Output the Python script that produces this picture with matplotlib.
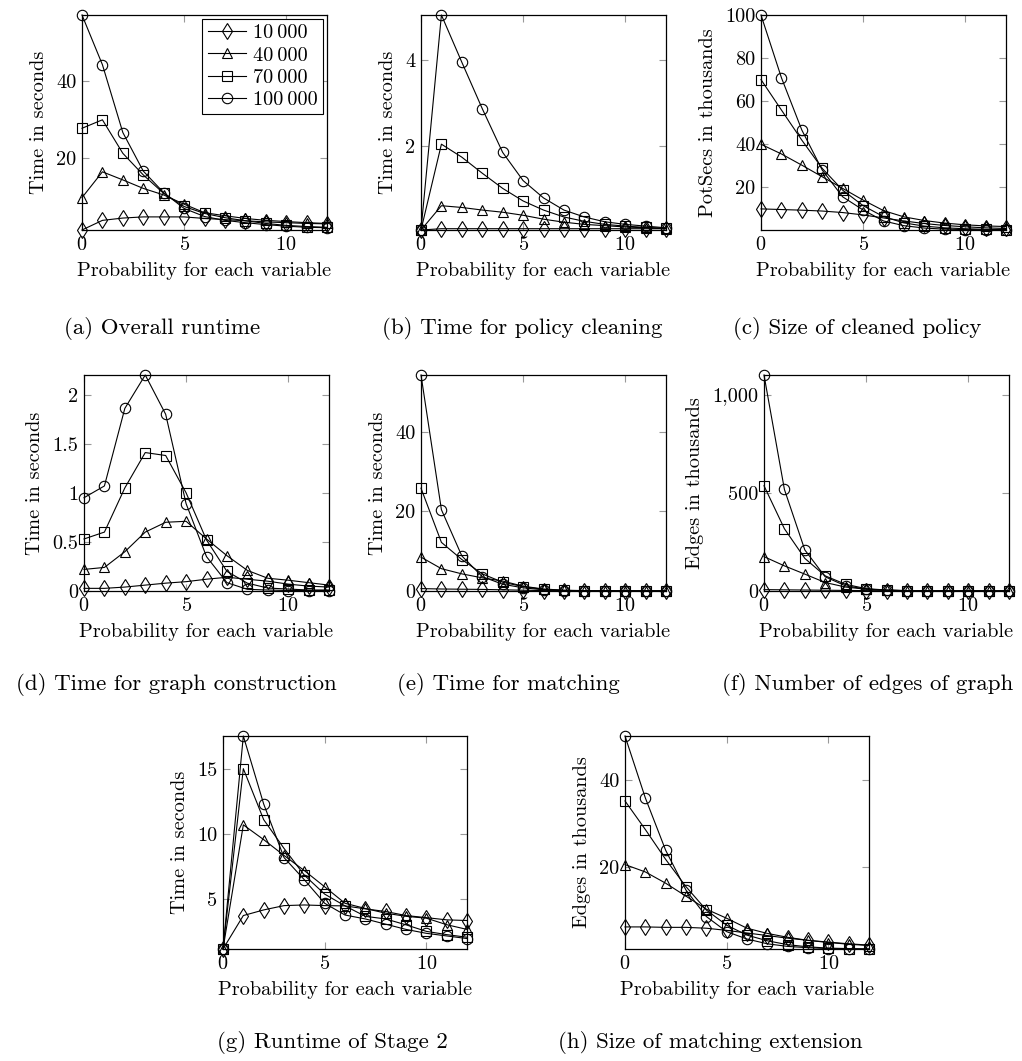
import matplotlib
matplotlib.use("Agg")
import matplotlib.pyplot as plt
from matplotlib.ticker import FuncFormatter, FixedLocator

plt.rcParams['font.family'] = ['cmr10', 'DejaVu Serif']
plt.rcParams['axes.formatter.use_mathtext'] = True
plt.rcParams['mathtext.fontset'] = 'cm'

x = list(range(13))
series_labels = ["10\u2009000", "40\u2009000", "70\u2009000", "100\u2009000"]

a_10k = [1.3, 3.8, 4.4, 4.7, 4.7, 4.7, 4.3, 4.0, 3.7, 3.4, 3.2, 3.0, 2.9]
a_40k = [9.7, 16.4, 14.3, 12.1, 10.4, 8.0, 5.8, 5.0, 4.3, 3.8, 3.5, 3.2, 3.0]
a_70k = [27.7, 29.9, 21.2, 15.6, 10.8, 7.4, 5.6, 4.5, 3.7, 3.0, 2.5, 2.2, 2.0]
a_100k = [57.1, 44.2, 26.6, 16.6, 11.0, 6.9, 4.8, 3.8, 3.2, 2.7, 2.3, 2.0, 1.9]

b_10k = [0.07, 0.1, 0.1, 0.1, 0.1, 0.1, 0.1, 0.1, 0.1, 0.1, 0.1, 0.1, 0.1]
b_40k = [0.07, 0.63, 0.59, 0.53, 0.48, 0.41, 0.32, 0.25, 0.2, 0.17, 0.14, 0.12, 0.1]
b_70k = [0.07, 2.05, 1.75, 1.38, 1.03, 0.74, 0.53, 0.37, 0.27, 0.2, 0.16, 0.13, 0.11]
b_100k = [0.07, 5.03, 3.94, 2.87, 1.86, 1.21, 0.81, 0.53, 0.37, 0.26, 0.2, 0.16, 0.12]

c_10k = [10, 9.7, 9.4, 9.0, 8.3, 7.2, 5.8, 4.4, 3.2, 2.3, 1.7, 1.2, 0.9]
c_40k = [40, 35.5, 30.3, 24.9, 19.5, 14.1, 9.2, 6.3, 4.6, 3.4, 2.6, 2.1, 1.8]
c_70k = [70, 55.9, 41.9, 28.8, 18.7, 11.5, 6.4, 3.5, 2.0, 1.2, 0.8, 0.5, 0.4]
c_100k = [100, 70.9, 46.6, 28.0, 15.6, 9.5, 4.4, 2.2, 1.1, 0.6, 0.4, 0.3, 0.2]

d_10k = [0.027, 0.027, 0.04, 0.06, 0.08, 0.095, 0.12, 0.14, 0.12, 0.1, 0.07, 0.05, 0.04]
d_40k = [0.22, 0.24, 0.40, 0.6, 0.70, 0.71, 0.53, 0.36, 0.21, 0.13, 0.11, 0.085, 0.06]
d_70k = [0.53, 0.6, 1.05, 1.41, 1.38, 1.0, 0.52, 0.2, 0.08, 0.03, 0.02, 0.01, 0.01]
d_100k = [0.95, 1.07, 1.86, 2.2, 1.8, 0.89, 0.35, 0.085, 0.017, 0.01, 0.005, 0.005, 0.005]

e_10k = [0.6, 0.5, 0.45, 0.4, 0.3, 0.2, 0.1, 0.05, 0.03, 0.02, 0.02, 0.01, 0.01]
e_40k = [8.5, 5.6, 4.3, 3.3, 2.5, 1.2, 0.5, 0.2, 0.1, 0.05, 0.03, 0.02, 0.02]
e_70k = [25.8, 12.2, 7.9, 4.3, 2.2, 1.1, 0.4, 0.15, 0.06, 0.03, 0.02, 0.01, 0.01]
e_100k = [54.2, 20.4, 8.8, 3.6, 1.7, 0.8, 0.3, 0.1, 0.04, 0.02, 0.01, 0.01, 0.01]

f_10k = [7, 6, 5, 4, 3, 2, 1, 0.5, 0.3, 0.2, 0.1, 0.1, 0.1]
f_40k = [175, 128, 86, 43, 20, 9, 4, 2, 1, 0.5, 0.3, 0.2, 0.1]
f_70k = [536, 317, 166, 77, 34, 12, 5, 2, 1, 0.5, 0.3, 0.2, 0.1]
f_100k = [1100, 517, 209, 72, 26, 10, 4, 1.5, 0.7, 0.3, 0.2, 0.1, 0.1]

g_10k = [1.2, 3.76, 4.19, 4.52, 4.57, 4.52, 4.5, 4.27, 4.07, 3.76, 3.6, 3.43, 3.38]
g_40k = [1.2, 10.7, 9.57, 8.36, 7.2, 5.96, 4.7, 4.3, 3.94, 3.7, 3.56, 3.06, 2.7]
g_70k = [1.2, 15.0, 11.1, 8.9, 6.85, 5.4, 4.5, 3.7, 3.5, 3.05, 2.55, 2.3, 2.1]
g_100k = [1.2, 17.5, 12.3, 8.2, 6.5, 4.7, 3.8, 3.5, 3.1, 2.7, 2.4, 2.2, 2.0]

h_10k = [6.1, 6.1, 6.0, 6.0, 5.8, 5.3, 4.7, 4.1, 3.5, 3.0, 2.6, 2.2, 1.9]
h_40k = [20.5, 18.8, 16.2, 13.2, 10.2, 8.1, 5.8, 4.6, 3.7, 3.0, 2.5, 2.1, 1.8]
h_70k = [35.2, 28.6, 21.7, 15.4, 10.0, 6.5, 4.2, 2.9, 2.0, 1.5, 1.2, 1.1, 1.0]
h_100k = [50.2, 35.9, 23.8, 14.6, 8.5, 5.0, 3.3, 2.2, 1.6, 1.3, 1.1, 1.0, 1.0]

yticks_a = [20, 40]
yticks_b = [2, 4]
yticks_c = [20, 40, 60, 80, 100]
yticks_d = [0, 0.5, 1, 1.5, 2]
yticks_e = [0, 20, 40]
yticks_f = [0, 500, 1000]
yticks_g = [5, 10, 15]
yticks_h = [20, 40]
xticks = [0, 5, 10]

ylabels = ["Time in seconds", "Time in seconds", "PotSecs in thousands",
           "Time in seconds", "Time in seconds", "Edges in thousands",
           "Time in seconds", "Edges in thousands"]
captions = ["(a) Overall runtime", "(b) Time for policy cleaning",
            "(c) Size of cleaned policy", "(d) Time for graph construction",
            "(e) Time for matching", "(f) Number of edges of graph",
            "(g) Runtime of Stage 2", "(h) Size of matching extension"]
xlabel = "Probability for each variable"

panels = [
    ([a_10k, a_40k, a_70k, a_100k], yticks_a),
    ([b_10k, b_40k, b_70k, b_100k], yticks_b),
    ([c_10k, c_40k, c_70k, c_100k], yticks_c),
    ([d_10k, d_40k, d_70k, d_100k], yticks_d),
    ([e_10k, e_40k, e_70k, e_100k], yticks_e),
    ([f_10k, f_40k, f_70k, f_100k], yticks_f),
    ([g_10k, g_40k, g_70k, g_100k], yticks_g),
    ([h_10k, h_40k, h_70k, h_100k], yticks_h),
]

# layout in pixels: left, top, right, bottom
W, H = 1022, 1061
rects = [(82, 15, 327, 230), (421, 15, 666, 230), (761, 15, 1006, 230),
         (84, 375, 329, 591), (421, 375, 666, 591), (764, 375, 1009, 591),
         (223, 736, 467, 949), (625, 736, 869, 949)]
cap_pos = [(162, 328), (522, 328), (857, 328),
           (176, 684), (508, 684), (868, 684),
           (332, 1042), (710, 1042)]

markers = ['d', '^', 's', 'o']
msizes = [8.5, 7.5, 7.5, 7.5]

fig = plt.figure(figsize=(W / 100, H / 100), dpi=100)
FS = 14.6
CFS = 16.5


def fmt(v, pos):
    if v >= 1000:
        return "{:,.0f}".format(v)
    return "{:g}".format(v)


for i, ((series, yt), (l, t, r, b)) in enumerate(zip(panels, rects)):
    ax = fig.add_axes([l / W, 1 - b / H, (r - l) / W, (b - t) / H])
    for s, m, ms, lab in zip(series, markers, msizes, series_labels):
        ax.plot(x, s, color='black', lw=0.8, marker=m, ms=ms,
                fillstyle='none', mew=0.8, clip_on=False, label=lab)
    allv = [v for s in series for v in s]
    lo, hi = min(allv), max(allv)
    if yt[0] <= lo:
        lo = yt[0]
    ax.set_xlim(0, 12)
    ax.set_ylim(lo, hi)
    ax.xaxis.set_major_locator(FixedLocator(xticks))
    ax.yaxis.set_major_locator(FixedLocator(yt))
    ax.yaxis.set_major_formatter(FuncFormatter(fmt))
    ax.tick_params(direction='in', length=5, width=0.8, color='0.6',
                   top=True, right=True, labelsize=FS, pad=4)
    for sp in ax.spines.values():
        sp.set_linewidth(0.9)
        sp.set_zorder(5)
    ax.set_xlabel(xlabel, fontsize=FS, labelpad=6)
    ax.set_ylabel(ylabels[i], fontsize=FS, labelpad=6)
    if i == 0:
        leg = ax.legend(loc='upper right', fontsize=FS, frameon=True,
                        fancybox=False, edgecolor='black', framealpha=1,
                        borderaxespad=0.2, handlelength=1.9, labelspacing=0.2,
                        borderpad=0.25, handletextpad=0.35)
        leg.get_frame().set_linewidth(0.8)
    cx, cy = cap_pos[i]
    fig.text(cx / W, 1 - cy / H, captions[i], ha='center', va='center',
             fontsize=CFS)

fig.savefig("out.png", dpi=100)
